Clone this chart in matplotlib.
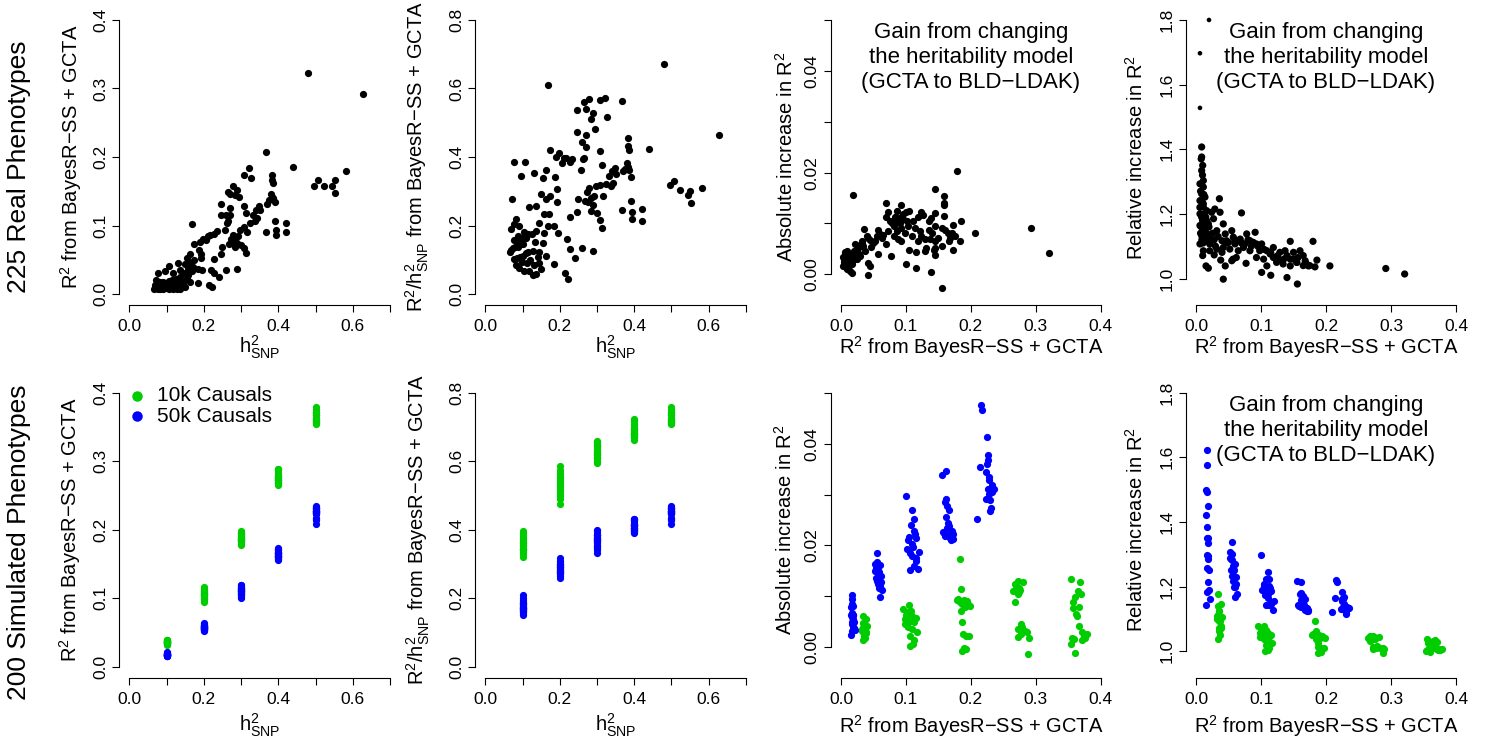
import numpy as np
import matplotlib
matplotlib.use("Agg")
import matplotlib.pyplot as plt

plt.rcParams["font.family"] = ["Liberation Sans", "DejaVu Sans"]
plt.rcParams["mathtext.fontset"] = "custom"
plt.rcParams["mathtext.rm"] = "Liberation Sans"
plt.rcParams["mathtext.it"] = "Liberation Sans"
plt.rcParams["mathtext.default"] = "regular"

GREEN = "#00CD00"
BLUE = "#0000FF"
MINUS = "\u2212"

# ---------------- real phenotypes: h2_SNP vs R2 (panels 1 and 2) ----------------
h2_real = [0.479, 0.628, 0.368, 0.440, 0.583, 0.506, 0.497, 0.522, 0.551, 0.545,
           0.553, 0.322, 0.307, 0.327, 0.382, 0.384, 0.385, 0.278, 0.288, 0.266,
           0.271, 0.295, 0.381, 0.383, 0.374, 0.391, 0.308, 0.246, 0.270, 0.347,
           0.351, 0.340, 0.333, 0.313, 0.245, 0.259, 0.270, 0.342, 0.391, 0.420,
           0.167, 0.261, 0.325, 0.309, 0.393, 0.421, 0.366, 0.394, 0.298, 0.317,
           0.257, 0.234, 0.226, 0.212, 0.197, 0.190, 0.174, 0.272, 0.284, 0.288,
           0.276, 0.268, 0.300, 0.308, 0.313, 0.250, 0.245, 0.188, 0.193, 0.163,
           0.154, 0.174, 0.193, 0.227, 0.163, 0.150, 0.130, 0.106, 0.185, 0.196,
           0.219, 0.260, 0.289, 0.227, 0.240, 0.183, 0.215, 0.221, 0.078, 0.096,
           0.072, 0.118, 0.136, 0.145, 0.154, 0.163, 0.127, 0.109, 0.065, 0.078,
           0.091, 0.100, 0.118, 0.136, 0.150, 0.084, 0.069, 0.105, 0.127, 0.145,
           0.082, 0.114, 0.132, 0.158, 0.167, 0.136, 0.172, 0.158, 0.279, 0.293,
           0.284, 0.206, 0.217, 0.337, 0.266, 0.284, 0.369, 0.387, 0.075, 0.080,
           0.088, 0.092, 0.095, 0.098, 0.085, 0.070, 0.102, 0.110, 0.112, 0.120,
           0.125, 0.140, 0.088, 0.076, 0.083, 0.097, 0.105, 0.115, 0.130, 0.145,
           0.078, 0.090]
r2_real = [0.322, 0.292, 0.207, 0.186, 0.180, 0.167, 0.158, 0.158, 0.166, 0.158,
           0.147, 0.184, 0.174, 0.169, 0.174, 0.166, 0.162, 0.158, 0.152, 0.149,
           0.146, 0.142, 0.146, 0.142, 0.137, 0.134, 0.129, 0.132, 0.125, 0.128,
           0.123, 0.122, 0.115, 0.118, 0.116, 0.115, 0.116, 0.111, 0.106, 0.104,
           0.102, 0.103, 0.104, 0.098, 0.094, 0.090, 0.090, 0.086, 0.094, 0.091,
           0.093, 0.092, 0.087, 0.084, 0.081, 0.076, 0.073, 0.081, 0.080, 0.075,
           0.074, 0.073, 0.071, 0.067, 0.060, 0.069, 0.059, 0.064, 0.059, 0.059,
           0.052, 0.050, 0.052, 0.051, 0.045, 0.044, 0.046, 0.041, 0.037, 0.035,
           0.035, 0.035, 0.036, 0.030, 0.025, 0.016, 0.013, 0.010, 0.030, 0.033,
           0.020, 0.030, 0.025, 0.030, 0.023, 0.018, 0.016, 0.013, 0.008, 0.008,
           0.007, 0.011, 0.008, 0.008, 0.011, 0.013, 0.013, 0.007, 0.007, 0.018,
           0.018, 0.020, 0.020, 0.028, 0.033, 0.035, 0.040, 0.037, 0.086, 0.084,
           0.069, 0.079, 0.086, 0.106, 0.106, 0.145, 0.132, 0.140, 0.010, 0.011,
           0.012, 0.010, 0.014, 0.016, 0.009, 0.009, 0.015, 0.018, 0.010, 0.012,
           0.022, 0.015, 0.015, 0.012, 0.007, 0.009, 0.019, 0.014, 0.011, 0.013,
           0.016, 0.018]

# ---------------- real phenotypes: absolute gain (panel 3) ----------------
r2_abs_real = [0.179, 0.019, 0.145, 0.159, 0.158, 0.158, 0.070, 0.093, 0.105, 0.100,
               0.123, 0.127, 0.145, 0.158, 0.139, 0.185, 0.207, 0.292, 0.321, 0.156,
               0.139, 0.116, 0.100, 0.041, 0.077, 0.105, 0.116, 0.131, 0.144, 0.145,
               0.173, 0.184, 0.166, 0.171, 0.160, 0.150, 0.140, 0.129, 0.118, 0.109,
               0.114, 0.099, 0.088, 0.081, 0.075, 0.083, 0.070, 0.091, 0.101, 0.111,
               0.119, 0.135, 0.0575, 0.036, 0.042, 0.0524, 0.032, 0.027, 0.022, 0.057,
               0.042, 0.045, 0.070, 0.063, 0.047, 0.037, 0.014, 0.0061, 0.0036, 0.0061,
               0.011, 0.014, 0.0087, 0.0164, 0.024, 0.011, 0.019, 0.029, 0.022, 0.010,
               0.0061, 0.0164, 0.0036, 0.0087, 0.027, 0.034, 0.050, 0.040, 0.073, 0.086,
               0.093, 0.104, 0.122, 0.135, 0.145, 0.155, 0.165, 0.176, 0.168, 0.145,
               0.155, 0.137, 0.124, 0.093, 0.081, 0.073, 0.086, 0.096, 0.145, 0.129,
               0.173, 0.005, 0.007, 0.009, 0.012, 0.008, 0.013, 0.006, 0.015, 0.018,
               0.010, 0.004, 0.012, 0.020, 0.025, 0.030, 0.033, 0.045, 0.055, 0.060,
               0.065, 0.078, 0.085, 0.090, 0.095]
gain_abs_real = [0.0203, 0.0156, 0.0168, 0.0155, 0.0141, 0.0136, 0.0141, 0.0137, 0.0125, 0.0122,
                 0.0123, 0.0117, 0.0120, 0.0115, 0.0110, 0.0104, 0.0081, 0.0092, 0.0041, -0.0028,
                 0.0004, 0.0012, 0.0020, -0.0002, 0.0036, 0.0048, 0.0044, 0.0051, 0.0048, 0.0038,
                 0.0048, 0.0065, 0.0065, 0.0082, 0.0087, 0.0071, 0.0082, 0.0069, 0.0066, 0.0076,
                 0.0091, 0.0082, 0.0069, 0.0096, 0.0105, 0.0112, 0.0112, 0.0101, 0.0105, 0.0105,
                 0.0112, 0.0105, 0.0087, 0.0090, 0.0072, 0.0066, 0.0066, 0.0053, 0.0046, 0.0039,
                 0.0023, 0.0016, 0.0059, 0.0072, 0.0053, 0.0046, 0.0026, 0.0039, 0.0033, 0.0020,
                 0.0013, 0.0007, 0.0010, 0.0020, 0.0030, 0.0033, 0.0039, 0.0036, 0.0059, 0.0046,
                 0.0026, 0.0003, 0.0017, 0.0023, 0.0039, 0.0056, 0.0062, 0.0076, 0.0085, 0.0085,
                 0.0092, 0.0096, 0.0085, 0.0088, 0.0096, 0.0092, 0.0082, 0.0076, 0.0071, 0.0066,
                 0.0056, 0.0069, 0.0076, 0.0066, 0.0076, 0.0122, 0.0125, 0.0119, 0.0052, 0.0046,
                 0.0097, 0.0030, 0.0035, 0.0028, 0.0022, 0.0015, 0.0040, 0.0043, 0.0035, 0.0028,
                 0.0038, 0.0025, 0.0018, 0.0045, 0.0048, 0.0058, 0.0062, 0.0068, 0.0075, 0.0080,
                 0.0078, 0.0100, 0.0105, 0.0110, 0.0108]

# ---------------- real phenotypes: relative gain (panel 4) ----------------
r2_rel_real = [0.0200, 0.0061, 0.0061, 0.0087, 0.0087, 0.0103, 0.0087, 0.0113, 0.0113, 0.0087,
               0.0138, 0.0061, 0.0113, 0.0164, 0.0087, 0.0164, 0.0061, 0.0138, 0.0087, 0.0190,
               0.0061, 0.036, 0.029, 0.037, 0.027, 0.042, 0.070, 0.055, 0.032, 0.021,
               0.045, 0.0574, 0.068, 0.078, 0.091, 0.083, 0.093, 0.073, 0.065, 0.052,
               0.042, 0.032, 0.021, 0.0113, 0.0103, 0.028, 0.038, 0.0154, 0.019, 0.045,
               0.057, 0.055, 0.077, 0.042, 0.101, 0.109, 0.119, 0.129, 0.145, 0.140,
               0.150, 0.119, 0.124, 0.134, 0.145, 0.155, 0.168, 0.173, 0.180, 0.186,
               0.183, 0.157, 0.165, 0.170, 0.206, 0.292, 0.321, 0.101, 0.115, 0.140,
               0.156, 0.109, 0.098, 0.083, 0.062, 0.093, 0.104, 0.114, 0.127, 0.137,
               0.150, 0.160, 0.0113, 0.0061, 0.0138, 0.0061, 0.0113, 0.019, 0.024, 0.021,
               0.040, 0.050, 0.040, 0.047, 0.088, 0.075, 0.060, 0.008, 0.010, 0.007,
               0.012, 0.009, 0.006, 0.013, 0.010, 0.008, 0.012, 0.007, 0.009, 0.011,
               0.015, 0.016, 0.018, 0.020, 0.022, 0.025, 0.028, 0.030, 0.034, 0.047,
               0.060, 0.070, 0.080, 0.085, 0.095, 0.105, 0.115, 0.125, 0.135, 0.145,
               0.155, 0.165, 0.175]
gain_rel_real = [1.800, 1.697, 1.528, 1.407, 1.376, 1.350, 1.334, 1.303, 1.283, 1.262,
                 1.252, 1.241, 1.221, 1.210, 1.190, 1.179, 1.164, 1.148, 1.133, 1.117,
                 1.107, 1.247, 1.215, 1.205, 1.185, 1.169, 1.203, 1.148, 1.148, 1.128,
                 1.138, 1.128, 1.122, 1.138, 1.143, 1.117, 1.107, 1.096, 1.086, 1.091,
                 1.096, 1.091, 1.086, 1.086, 1.071, 1.073, 1.057, 1.039, 1.032, 1.039,
                 1.060, 1.055, 1.047, 0.998, 1.107, 1.086, 1.096, 1.081, 1.115, 1.071,
                 1.060, 1.065, 1.050, 1.045, 1.039, 1.050, 1.055, 1.039, 1.115, 1.057,
                 1.036, 1.065, 1.071, 1.045, 1.039, 1.031, 1.014, 1.019, 1.010, 1.003,
                 0.983, 1.039, 1.086, 1.086, 1.065, 1.065, 1.060, 1.076, 1.060, 1.086,
                 1.081, 1.086, 1.128, 1.200, 1.169, 1.293, 1.231, 1.169, 1.205, 1.107,
                 1.117, 1.112, 1.081, 1.117, 1.112, 1.107, 1.107, 1.370, 1.320, 1.270,
                 1.260, 1.240, 1.220, 1.200, 1.180, 1.160, 1.150, 1.140, 1.120, 1.110,
                 1.190, 1.140, 1.130, 1.160, 1.120, 1.140, 1.120, 1.100, 1.130, 1.110,
                 1.120, 1.110, 1.120, 1.100, 1.100, 1.090, 1.080, 1.070, 1.060, 1.060,
                 1.050, 1.040, 1.040]

# ---------------- simulated phenotypes (5 heritabilities x 20 replicates) ----------------
sim_h2 = [0.1, 0.2, 0.3, 0.4, 0.5]

r2_10k = [
    [0.0345, 0.0380, 0.0330, 0.0360, 0.0395, 0.0340, 0.0370, 0.0355, 0.0320, 0.0385,
     0.0350, 0.0365, 0.0335, 0.0375, 0.0390, 0.0340, 0.0360, 0.0345, 0.0370, 0.0355],
    [0.1050, 0.1080, 0.0950, 0.1010, 0.1100, 0.1150, 0.1000, 0.1060, 0.1120, 0.0980,
     0.1040, 0.1090, 0.1070, 0.1130, 0.0990, 0.1020, 0.1110, 0.1060, 0.1170, 0.1030],
    [0.1830, 0.1850, 0.1780, 0.1830, 0.1890, 0.1940, 0.1980, 0.1850, 0.1870, 0.1880,
     0.1930, 0.1970, 0.1900, 0.1870, 0.1920, 0.1800, 0.1950, 0.1860, 0.1910, 0.1840],
    [0.2720, 0.2810, 0.2680, 0.2740, 0.2650, 0.2730, 0.2680, 0.2780, 0.2730, 0.2830,
     0.2890, 0.2720, 0.2870, 0.2880, 0.2760, 0.2700, 0.2790, 0.2750, 0.2690, 0.2770],
    [0.3550, 0.3680, 0.3700, 0.3600, 0.3580, 0.3670, 0.3620, 0.3670, 0.3560, 0.3540,
     0.3600, 0.3720, 0.3790, 0.3740, 0.3760, 0.3590, 0.3650, 0.3630, 0.3570, 0.3710],
]
gain_10k = [
    [0.0061, 0.0055, 0.0036, 0.0045, 0.0042, 0.0038, 0.0035, 0.0033, 0.0032, 0.0028,
     0.0025, 0.0018, 0.0013, 0.0040, 0.0030, 0.0048, 0.0022, 0.0034, 0.0027, 0.0044],
    [0.0082, 0.0071, 0.0075, 0.0069, 0.0061, 0.0058, 0.0062, 0.0052, 0.0049, 0.0055,
     0.0040, 0.0035, 0.0021, 0.0013, 0.0045, 0.0066, 0.0005, 0.0002, 0.0030, 0.0060],
    [0.0173, 0.0114, 0.0092, 0.0090, 0.0093, 0.0090, 0.0081, 0.0070, 0.0050, 0.0025,
     0.0022, 0.0021, -0.0002, -0.0008, -0.0004, 0.0095, 0.0085, 0.0085, 0.0078, 0.0088],
    [0.0130, 0.0127, 0.0124, 0.0117, 0.0110, 0.0105, 0.0088, 0.0045, 0.0035, 0.0031,
     0.0018, 0.0020, 0.0030, -0.0013, 0.0112, 0.0122, 0.0040, 0.0108, 0.0115, 0.0025],
    [0.0134, 0.0127, 0.0104, 0.0099, 0.0077, 0.0078, 0.0065, 0.0041, 0.0018, 0.0005,
     -0.0011, 0.0013, 0.0025, 0.0021, 0.0018, 0.0015, 0.0110, 0.0060, 0.0088, 0.0030],
]
r2_50k = [
    [0.0164, 0.0165, 0.0158, 0.0170, 0.0150, 0.0178, 0.0172, 0.0168, 0.0180, 0.0185,
     0.0165, 0.0190, 0.0183, 0.0175, 0.0195, 0.0186, 0.0200, 0.0170, 0.0210, 0.0160],
    [0.0550, 0.0560, 0.0530, 0.0600, 0.0545, 0.0575, 0.0520, 0.0590, 0.0565, 0.0610,
     0.0540, 0.0580, 0.0555, 0.0620, 0.0570, 0.0600, 0.0585, 0.0635, 0.0560, 0.0595],
    [0.1000, 0.1100, 0.1120, 0.1130, 0.1050, 0.1140, 0.1090, 0.1110, 0.1060, 0.1200,
     0.1100, 0.1150, 0.1070, 0.1190, 0.1150, 0.1040, 0.1080, 0.1160, 0.1120, 0.1020],
    [0.1560, 0.1620, 0.1620, 0.1600, 0.1640, 0.1670, 0.1620, 0.1660, 0.1600, 0.1660,
     0.1710, 0.1700, 0.1610, 0.1640, 0.1720, 0.1570, 0.1680, 0.1650, 0.1730, 0.1590],
    [0.2150, 0.2170, 0.2250, 0.2270, 0.2260, 0.2250, 0.2140, 0.2280, 0.2280, 0.2260,
     0.2350, 0.2280, 0.2230, 0.2300, 0.2310, 0.2300, 0.2090, 0.2320, 0.2240, 0.2330],
]
gain_50k = [
    [0.0102, 0.0095, 0.0079, 0.0084, 0.0063, 0.0080, 0.0066, 0.0059, 0.0063, 0.0062,
     0.0049, 0.0056, 0.0052, 0.0045, 0.0049, 0.0040, 0.0038, 0.0031, 0.0034, 0.0023],
    [0.0186, 0.0168, 0.0163, 0.0162, 0.0155, 0.0152, 0.0150, 0.0148, 0.0145, 0.0140,
     0.0136, 0.0135, 0.0130, 0.0128, 0.0124, 0.0120, 0.0117, 0.0112, 0.0158, 0.0099],
    [0.0298, 0.0270, 0.0252, 0.0229, 0.0217, 0.0223, 0.0202, 0.0196, 0.0186, 0.0188,
     0.0180, 0.0169, 0.0152, 0.0153, 0.0215, 0.0210, 0.0240, 0.0175, 0.0160, 0.0192],
    [0.0339, 0.0346, 0.0292, 0.0285, 0.0278, 0.0269, 0.0256, 0.0239, 0.0223, 0.0220,
     0.0229, 0.0211, 0.0218, 0.0235, 0.0222, 0.0226, 0.0215, 0.0245, 0.0213, 0.0224],
    [0.0476, 0.0467, 0.0413, 0.0379, 0.0368, 0.0361, 0.0354, 0.0335, 0.0328, 0.0311,
     0.0312, 0.0301, 0.0291, 0.0290, 0.0273, 0.0268, 0.0252, 0.0320, 0.0345, 0.0305],
]

# tick positions / labels (R style: some ticks unlabelled)
h2_ticks = [0.0, 0.1, 0.2, 0.3, 0.4, 0.5, 0.6, 0.7]
h2_labels = ["0.0", "", "0.2", "", "0.4", "", "0.6", ""]
r2x_ticks = [0.0, 0.1, 0.2, 0.3, 0.4]
r2x_labels = ["0.0", "0.1", "0.2", "0.3", "0.4"]
r2y_ticks = [0.0, 0.1, 0.2, 0.3, 0.4]
r2y_labels = ["0.0", "0.1", "0.2", "0.3", "0.4"]
ratio_ticks = [0.0, 0.2, 0.4, 0.6, 0.8]
ratio_labels = ["0.0", "0.2", "0.4", "0.6", "0.8"]
abs_ticks = [0.0, 0.01, 0.02, 0.03, 0.04, 0.05]
abs_labels = ["0.00", "", "0.02", "", "0.04", ""]
rel_ticks = [1.0, 1.2, 1.4, 1.6, 1.8]
rel_labels = ["1.0", "1.2", "1.4", "1.6", "1.8"]

TICK_FS = 12.5
LAB_FS = 14.5
TITLE_FS = 16
PT = 27

fig = plt.figure(figsize=(14.88, 7.44), dpi=100)

# plot regions in pixels (left, right) and (top, bottom)
cols = [(119, 400.4), (475, 756.3), (830.6, 1111.0), (1185.6, 1466.4)]
rows = [(9, 305), (381.7, 677.7)]


def region(c, r):
    l, rr = cols[c]
    t, b = rows[r]
    return fig.add_axes([l / 1488, 1 - b / 744, (rr - l) / 1488, (b - t) / 744])


def r_style(ax, xlim, ylim, xt, xl, yt, yl):
    dx = 0.04 * (xlim[1] - xlim[0])
    dy = 0.04 * (ylim[1] - ylim[0])
    ax.set_xlim(xlim[0] - dx, xlim[1] + dx)
    ax.set_ylim(ylim[0] - dy, ylim[1] + dy)
    ax.set_facecolor("none")
    for s in ["top", "right"]:
        ax.spines[s].set_visible(False)
    for s in ["left", "bottom"]:
        ax.spines[s].set_linewidth(0.8)
    ax.spines["bottom"].set_bounds(xt[0], xt[-1])
    ax.spines["left"].set_bounds(yt[0], yt[-1])
    ax.set_xticks(xt)
    ax.set_xticklabels(xl)
    ax.set_yticks(yt)
    ax.set_yticklabels(yl, rotation=90, va="center")
    ax.tick_params(direction="out", length=4.8, width=0.8, labelsize=TICK_FS)
    ax.tick_params(axis="x", pad=5.5)
    ax.tick_params(axis="y", pad=3)


def labels(ax, xlab, ylab, xy, yx):
    ax.text(0.5, xy, xlab, transform=ax.transAxes, ha="center", va="baseline",
            fontsize=LAB_FS)
    ax.text(yx, 0.5, ylab, transform=ax.transAxes, ha="center", va="baseline",
            rotation=90, rotation_mode="anchor", fontsize=LAB_FS)


def gain_title(ax):
    ax.text(0.5, 0.955,
            "Gain from changing\nthe heritability model\n(GCTA to BLD" + MINUS + "LDAK)",
            transform=ax.transAxes, ha="center", va="top", fontsize=TITLE_FS,
            linespacing=1.25)


lab_h2 = r"$h^{2}_{SNP}$"
lab_r2 = "R$^{2}$ from BayesR" + MINUS + "SS + GCTA"
lab_ratio = "R$^{2}$/h$^{2}_{SNP}$ from BayesR" + MINUS + "SS + GCTA"
lab_abs = "Absolute increase in R$^{2}$"
lab_rel = "Relative increase in R$^{2}$"

h2r = np.array(h2_real)
r2r = np.array(r2_real)

# ---- row 1: real phenotypes ----
ax = region(0, 0)
ax.scatter(h2r, r2r, s=PT, c="black", linewidths=0)
r_style(ax, (0, 0.7), (0, 0.4), h2_ticks, h2_labels, r2y_ticks, r2y_labels)
labels(ax, lab_h2, lab_r2, -0.163, -0.148)

ax = region(1, 0)
ax.scatter(h2r, r2r / h2r, s=PT, c="black", linewidths=0)
r_style(ax, (0, 0.7), (0, 0.8), h2_ticks, h2_labels, ratio_ticks, ratio_labels)
labels(ax, lab_h2, lab_ratio, -0.163, -0.185)

ax = region(2, 0)
ax.scatter(r2_abs_real, gain_abs_real, s=PT, c="black", linewidths=0)
r_style(ax, (0, 0.4), (-0.0039, 0.0501), r2x_ticks, r2x_labels, abs_ticks, abs_labels)
labels(ax, lab_r2, lab_abs, -0.165, -0.135)
gain_title(ax)

ax = region(3, 0)
rel = np.array(gain_rel_real)
sizes = np.where(rel > 1.45, 11, PT)
ax.scatter(r2_rel_real, rel, s=sizes, c="black", linewidths=0)
r_style(ax, (0, 0.4), (0.952, 1.80), r2x_ticks, r2x_labels, rel_ticks, rel_labels)
labels(ax, lab_r2, lab_rel, -0.165, -0.152)
gain_title(ax)

# ---- row 2: simulated phenotypes ----
groups = [("10k Causals", GREEN, r2_10k, gain_10k), ("50k Causals", BLUE, r2_50k, gain_50k)]

ax5 = region(0, 1)
ax6 = region(1, 1)
ax7 = region(2, 1)
ax8 = region(3, 1)
for name, col, r2s, gains in groups:
    x = np.concatenate([[h] * len(r) for h, r in zip(sim_h2, r2s)])
    r2 = np.concatenate(r2s)
    g = np.concatenate(gains)
    ax5.scatter(x, r2, s=PT, c=col, linewidths=0, label=name)
    ax6.scatter(x, r2 / x, s=PT, c=col, linewidths=0)
    ax7.scatter(r2, g, s=PT, c=col, linewidths=0)
    ax8.scatter(r2, 1 + g / r2, s=PT, c=col, linewidths=0)

r_style(ax5, (0, 0.7), (0, 0.4), h2_ticks, h2_labels, r2y_ticks, r2y_labels)
labels(ax5, lab_h2, lab_r2, -0.18, -0.150)
ax5.legend(loc="upper left", bbox_to_anchor=(0.028, 0.985), frameon=False,
           fontsize=15, markerscale=1.45, handlelength=1.0, handletextpad=0.45,
           labelspacing=0.08, borderpad=0, borderaxespad=0, scatterpoints=1)

r_style(ax6, (0, 0.7), (0, 0.8), h2_ticks, h2_labels, ratio_ticks, ratio_labels)
labels(ax6, lab_h2, lab_ratio, -0.18, -0.182)

r_style(ax7, (0, 0.4), (-0.0039, 0.0501), r2x_ticks, r2x_labels, abs_ticks, abs_labels)
labels(ax7, lab_r2, lab_abs, -0.185, -0.137)

r_style(ax8, (0, 0.4), (0.952, 1.80), r2x_ticks, r2x_labels, rel_ticks, rel_labels)
labels(ax8, lab_r2, lab_rel, -0.185, -0.152)
gain_title(ax8)

# row titles
fig.text(19 / 1488, 1 - 167 / 744, "225 Real Phenotypes", rotation=90,
         ha="center", va="center", fontsize=19)
fig.text(19 / 1488, 1 - 542 / 744, "200 Simulated Phenotypes", rotation=90,
         ha="center", va="center", fontsize=19)

fig.savefig("out.png", dpi=100)
